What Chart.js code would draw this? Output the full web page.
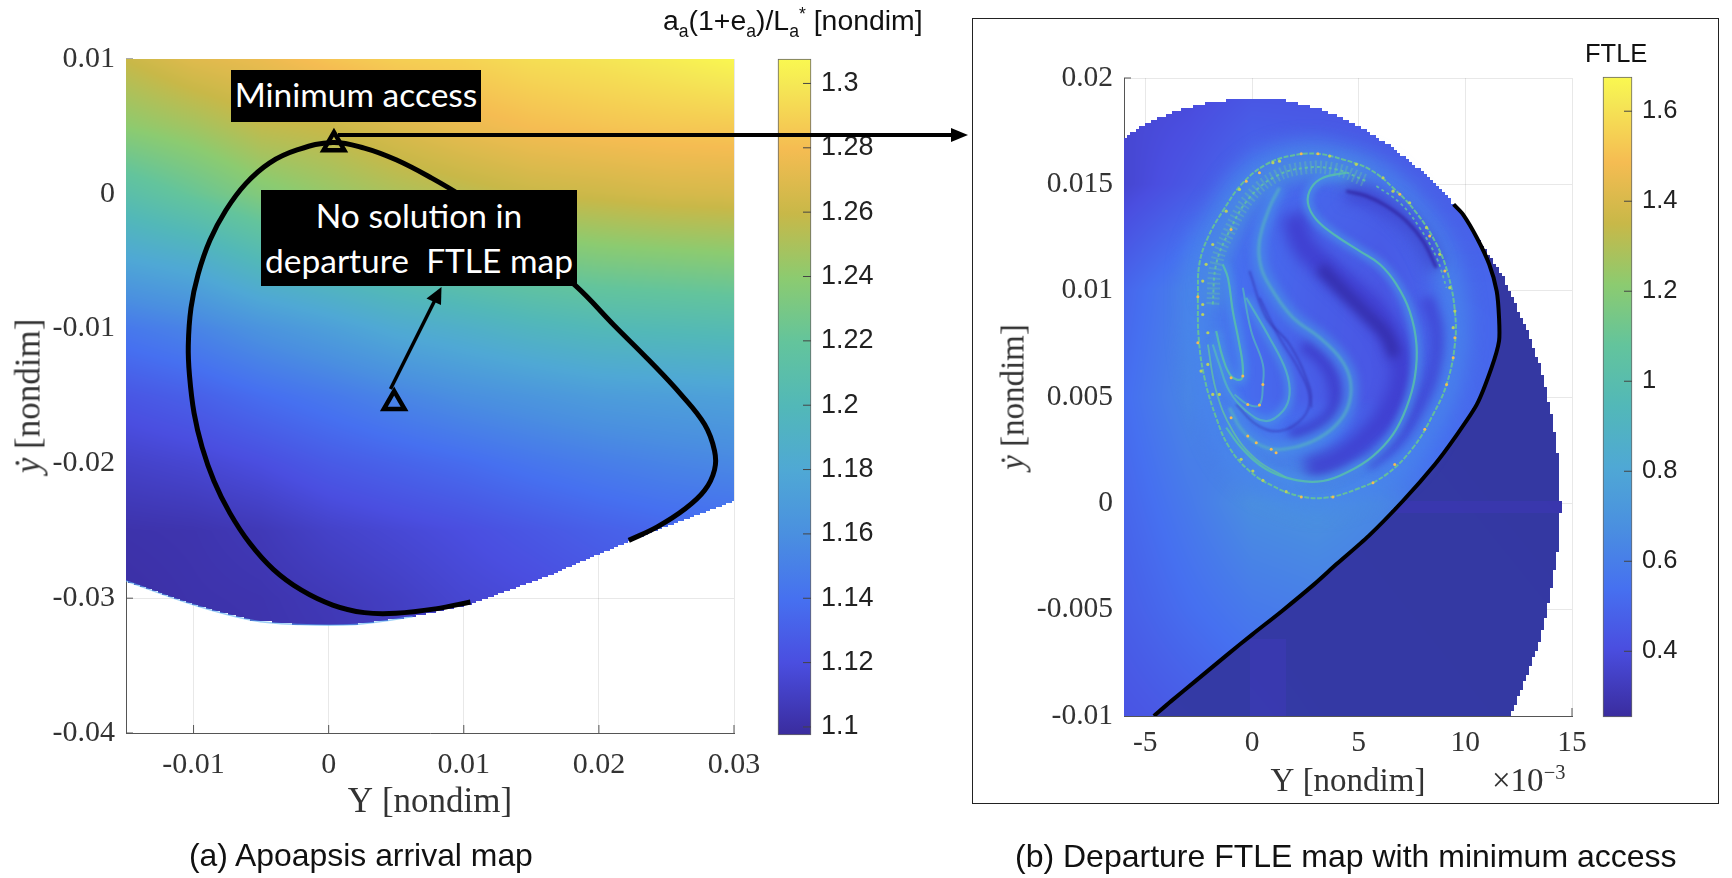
<!DOCTYPE html>
<html>
<head>
<meta charset="utf-8">
<title>Apoapsis arrival map and departure FTLE map</title>
<script src="https://cdn.jsdelivr.net/npm/chart.js@4/dist/chart.umd.min.js"></script>
<style>
html, body { margin: 0; padding: 0; background: #fff; }
#page { position: relative; width: 1732px; height: 878px; overflow: hidden; }
canvas { position: absolute; }
.t { position: absolute; white-space: nowrap; line-height: 1; }
.serif { font-family: "Liberation Serif", serif; color: #333; }
.sans { font-family: "Liberation Sans", sans-serif; color: #111; }
.box { position: absolute; background: #000; color: #fff; font-family: Lato, sans-serif; text-align: center; }
.box div { position: absolute; left: 0; right: 0; line-height: 1; white-space: pre; }
.rot { transform: translate(-50%, -50%) rotate(-90deg); }
sub, sup { font-size: 62%; line-height: 0; }
#frame { position: absolute; left: 972px; top: 18px; width: 745px; height: 784px; border: 1px solid #222; }
svg { position: absolute; left: 0; top: 0; }
</style>
</head>
<body>
<div id="page">
  <div id="frame"></div>
  <canvas id="arrivalMap" width="800" height="878" style="left:0;top:0"></canvas>
  <canvas id="arrivalBar" width="150" height="878" style="left:770px;top:0"></canvas>
  <canvas id="ftleMap" width="590" height="878" style="left:1020px;top:0"></canvas>
  <canvas id="ftleBar" width="90" height="878" style="left:1596px;top:0"></canvas>

  <div class="box" style="left:231px;top:70px;width:250px;height:52px"><div style="top:8px;font-size:33.5px">Minimum access</div></div>
  <div class="box" style="left:261px;top:190px;width:316px;height:96px"><div style="top:9px;font-size:33.5px">No solution in</div><div style="top:54px;font-size:33.5px">departure  FTLE map</div></div>

  <svg width="1732" height="878">
    <line x1="338" y1="135" x2="954" y2="135" stroke="#000" stroke-width="4"/>
    <polygon points="968,135 951,128 951,142" fill="#000"/>
    <line x1="390.5" y1="389" x2="436" y2="298" stroke="#000" stroke-width="3.5"/>
    <polygon points="441.5,287 426.5,298.5 441,305" fill="#000"/>
  </svg>

  <div class="t sans" style="left:663px;top:6px;font-size:28.4px">a<sub>a</sub>(1+e<sub>a</sub>)/L<sub>a</sub><sup>*</sup> [nondim]</div>
  <div class="t sans" style="left:1585px;top:41px;font-size:25.5px">FTLE</div>
  <div class="t serif rot" style="left:28px;top:396px;font-size:35px"><i>ẏ</i> [nondim]</div>
  <div class="t serif rot" style="left:1013px;top:397px;font-size:33px"><i>ẏ</i> [nondim]</div>
  <div class="t serif" style="left:1492px;top:764px;font-size:33px">×10<sup>−3</sup></div>
  <div class="t sans" style="left:189px;top:840px;font-size:31.9px">(a) Apoapsis arrival map</div>
  <div class="t sans" style="left:1015px;top:840px;font-size:32px">(b) Departure FTLE map with minimum access</div>
</div>

<script>
// ---- colour map, fraction of the colour bar -> colour ----
const mapStops = [[0,'#3a2c9e'],[.107,'#4a4ee0'],[.2,'#4670f0'],[.295,'#4a8fe0'],[.39,'#4fa8d5'],[.486,'#52b8b8'],
                  [.581,'#63c49c'],[.676,'#8ccb70'],[.771,'#c8b848'],[.867,'#f5bc52'],[.962,'#f5e855'],[1,'#faf850']];

// ---- (a) arrival map ----
const arrivalX = [-0.015,-0.01,-0.005,0,0.005,0.01,0.015,0.02,0.025,0.03];
const arrivalY = [0.01,0.005,0,-0.005,-0.01,-0.015,-0.02,-0.025,-0.03,-0.035];
const arrivalValues = [
  [1.26,1.27,1.275,1.283,1.288,1.29,1.295,1.298,1.302,1.307],
  [1.24,1.247,1.257,1.26,1.268,1.275,1.28,1.283,1.285,1.286],
  [1.21,1.222,1.235,1.243,1.25,1.255,1.26,1.262,1.265,1.266],
  [1.178,1.185,1.2,1.207,1.215,1.222,1.228,1.232,1.234,1.236],
  [1.145,1.152,1.163,1.172,1.182,1.188,1.195,1.2,1.202,1.204],
  [1.125,1.13,1.138,1.145,1.153,1.16,1.165,1.17,1.172,1.174],
  [1.112,1.115,1.12,1.127,1.132,1.137,1.143,1.148,1.152,1.155],
  [1.102,1.103,1.106,1.112,1.116,1.12,1.125,1.13,1.134,1.136],
  [1.1,1.102,1.103,1.106,1.11,1.115,1.118,1.122,1.125,1.128],
  [1.1,1.1,1.102,1.104,1.108,1.112,1.116,1.12,1.122,1.125]
];
const arrivalEdge = [[-0.015,-0.02873],[-0.00995,-0.03051],[-0.0057,-0.03163],[-0.0023,-0.03195],[0.00196,-0.03195],[0.00621,-0.03138],
                     [0.01046,-0.03047],[0.01641,-0.02829],[0.01981,-0.02681],[0.02492,-0.02471],[0.03,-0.0228]];
const minimumAccess = [[0.00039,0.00368],[0.00485,-0.01552]];
const accessCurveA = [[0.01049,-0.03028],[0.00791,-0.03079],[0.00499,-0.03112],[0.00264,-0.03107],[0.0003,-0.03051],[-0.00204,-0.02939],
  [-0.0041,-0.02786],[-0.00585,-0.02591],[-0.00732,-0.02367],[-0.00849,-0.0213],[-0.00937,-0.01879],[-0.00996,-0.01628],[-0.0103,-0.01349],
  [-0.01039,-0.01126],[-0.01019,-0.00847],[-0.00966,-0.00596],[-0.00879,-0.00345],[-0.00761,-0.00122],[-0.00615,0.00074],[-0.00439,0.00228],
  [-0.00234,0.00325],[0.0003,0.00381],[0.00264,0.00339],[0.00499,0.00252],[0.00763,0.00116],[0.00997,-0.00024],[0.012,-0.0017],[0.01407,-0.00331],
  [0.01831,-0.00685],[0.0211,-0.00973],[0.02373,-0.01237],[0.02607,-0.01488],[0.02783,-0.01712],[0.02856,-0.01907],[0.02856,-0.02047],
  [0.02783,-0.022],[0.02636,-0.02339],[0.02432,-0.02471],[0.02221,-0.02571]];
const arrivalXTicks = [-0.01,0,0.01,0.02,0.03];
const arrivalYTicks = [-0.04,-0.03,-0.02,-0.01,0,0.01];
const arrivalBarRange = [1.0975,1.3076];
const arrivalBarTicks = [1.1,1.12,1.14,1.16,1.18,1.2,1.22,1.24,1.26,1.28,1.3];

// ---- (b) FTLE map, x and y in units of 1e-3 ----
const ftleX = [-6,-3,0,3,6,9,12,15];
const ftleY = [20,15,10,5,0,-5,-10];
const ftleValues = [
  [.38,.38,.42,.42,.42,.42,.42,.42],
  [.37,.44,.52,.5,.48,.47,.47,.47],
  [.5,.61,.52,.47,.44,.5,.5,.5],
  [.53,.63,.52,.46,.44,.52,.5,.5],
  [.5,.58,.67,.69,.64,.55,.5,.5],
  [.47,.53,.58,.6,.6,.5,.5,.5],
  [.43,.46,.5,.5,.5,.5,.5,.5]
];
const noAccessX = [-6,3,15];
const noAccessY = [20,5,-10];
const noAccessValues = [[.3,.3,.3],[.3,.3,.29],[.32,.31,.3]];
const patchOne = [[7.07,0.11],[14.47,0.11],[14.47,-0.44],[6.5,-0.44]];
const patchTwo = [[-0.14,-6.32],[1.53,-6.32],[1.53,-10],[-0.14,-10]];
const ftleEdgeTop = [[-6,17.19],[-4.95,17.89],[-3.33,18.52],[-1.71,18.91],[0.02,19.04],[1.53,18.95],[3.14,18.57],[4.76,17.89],[6.38,16.88],[8.46,15.23],[9.45,14.06]];
const ftleEdgeRight = [[9.85,13.66],[10.77,12.18],[11.69,10.84],[12.85,8.26],[13.54,6.38],[14.12,3.87],[14.35,2.14],[14.47,-0.21],[14.35,-2.09],[14,-4.28],[13.54,-6.32],[12.85,-8.2],[12.11,-10]];
const accessCurveB = [[9.45,14.06],[9.89,13.59],[10.54,12.49],[11.12,11.24],[11.47,9.98],[11.58,8.73],[11.58,7.63],[11.23,6.38],[10.54,4.65],[9.5,3.08],
  [8.57,1.83],[7.07,0.11],[5.46,-1.54],[3.95,-2.87],[2.91,-3.81],[1.41,-5.06],[0.02,-6.16],[-1.14,-7.1],[-2.64,-8.35],[-3.79,-9.3],[-4.6,-10]];
const ridgeRing = [[-2.54,9.67],[-2.47,11.24],[-2.07,12.49],[-1.37,13.74],[-0.43,15.07],[0.67,15.94],[1.76,16.33],[3.01,16.44],[4.26,16.17],[5.52,15.7],
  [6.61,14.84],[7.71,13.66],[8.65,12.18],[9.19,10.77],[9.51,9.04],[9.51,7.47],[9.12,5.59],[8.49,4.18],[7.55,2.62],[6.3,1.36],[4.89,0.66],[3.48,0.27],
  [2.23,0.34],[0.98,0.81],[-0.12,1.52],[-1.06,2.62],[-1.68,4.03],[-2.23,5.91],[-2.5,7.79],[-2.54,9.67]];
const ridgeMainS = [[4.42,15.55],[3.33,15.31],[2.78,14.84],[2.62,14.13],[3.01,13.35],[3.95,12.57],[5.05,11.86],[5.99,11.24],[6.77,10.3],[7.39,9.04],[7.71,7.47],
  [7.63,5.91],[7.24,4.5],[6.61,3.24],[5.67,2.22],[4.58,1.52],[3.33,1.05],[1.92,1.13],[0.67,1.6],[-0.43,2.54],[-1.21,3.56]];
const ridgeSecondS = [[1.29,14.84],[0.82,13.9],[0.35,12.33],[0.43,11.08],[0.98,9.98],[1.92,8.73],[3.17,7.79],[4.11,6.85],[4.58,5.91],[4.58,4.81],[4.11,3.87],[3.17,3.09],[1.92,2.62],[0.67,2.62],[-0.43,3.4],[-1.06,4.5]];
const ridgeThirdS = [[-0.27,9.67],[0.82,7.79],[1.6,6.22],[1.76,5.12],[1.45,4.34],[0.67,3.87],[-0.27,4.34],[-1.06,5.28],[-1.53,6.53],[-1.84,7.47]];
const ridgeHook = [[-1.37,11.24],[-1.13,10.61],[-0.9,9.04],[-0.59,7.47],[-0.43,6.38],[-0.51,5.83],[-0.98,5.99],[-1.37,6.85],[-1.68,8.1]];
const ridgeFourthS = [[-0.43,10.14],[-0.04,8.1],[0.51,6.53],[0.51,5.59],[0.35,4.62],[-0.2,4.65],[-0.82,5.12]];
const ridgeInnerTop = [[-1.84,9.35],[-1.68,11.24],[-1.06,12.8],[-0.12,14.37],[1.13,15.39],[2.54,15.78],[3.95,15.7],[5.36,15.15]];
const ridgeInnerLow = [[-2.07,7.47],[-1.68,5.28],[-0.9,3.4],[0.2,2.07],[1.6,1.21]];
const ridgeInnerRight = [[5.83,14.92],[6.93,14.13],[7.86,12.96],[8.65,11.55],[9.12,10.14]];
const valleyTop = [[4.42,14.68],[5.36,14.45],[6.3,13.98],[7.24,13.27],[8.02,12.33],[8.65,11.08]];
const valleyMain = [[1.92,13.59],[2.39,12.18],[3.48,11.08],[4.89,9.82],[5.99,8.73],[6.77,7.32],[7,5.91],[6.46,4.34],[5.36,3.09],[3.95,2.07],[2.54,1.6]];
const valleyCore = [[3.2,11.1],[4.11,10.14],[5.36,8.88],[6.3,7.9],[6.7,6.9]];
const valleyLower = [[2.39,7.47],[3.33,6.69],[3.87,5.59],[3.8,4.34],[2.86,3.56],[1.76,3.24]];
const valleyThin = [[-0.12,10.92],[0.67,8.73],[1.76,7.47],[2.7,5.44],[2.78,4.5]];
const valleyRight = [[8.18,9.67],[8.65,8.1],[8.49,6.22],[7.86,4.65],[6.77,2.93],[5.36,1.83]];
const valleyFine = [[0.35,9.67],[1.29,7.79],[2.23,6.22],[2.7,4.97],[2.39,4.03],[1.29,3.4],[0.2,3.71],[-0.74,4.65]];
const speckleOrange = [[-0.98,12.88],[-2.54,9.71],[-2.54,7.55],[1.13,2.38],[-0.98,4.03],[9.04,10.92],[9.51,7.79],[9.43,6.85],[9.12,5.59],[8.1,3.48],[6.69,1.83],[5.67,0.97],[3.79,0.3],[2.31,0.3],
  [3.09,16.44],[2.31,16.44],[0.35,15.54],[-0.27,15.15],[6.93,14.53],[8.33,12.57],[-0.98,5.9],[-0.43,5.99],[0.51,5.59],[0.35,4.62],[-0.2,4.65],[-0.2,3.17],[0.2,2.85],[0.9,2.54]];
const speckleGreen = [[1.6,0.55],[0.51,1.08],[0.04,1.52],[-0.51,2.07],[-2.31,9.35],[-2.31,8.88],[-2.07,8.02],[-2.07,6.53],[-2.39,6.22],[-1.84,5.12],[-1.53,5.12],[1.29,16.09],[3.64,16.33],[4.89,15.94],[6.14,15.31],[6.61,14.68],
  [7.39,14.13],[8.18,12.96],[8.8,11.71],[9.27,10.14],[9.51,9.04],[9.43,8.26],[-2.15,11.24],[-1.84,12.17],[-2.31,10.45],[-1.21,13.74],[-0.59,14.76],[0.98,16.02]];
const ftleXTicks = [-5,0,5,10,15];
const ftleYTicks = [-10,-5,0,5,10,15,20];
const ftleBarRange = [0.254,1.676];
const ftleBarTicks = [0.4,0.6,0.8,1,1.2,1.4,1.6];

const pts = a => a.map(p => ({x:p[0], y:p[1]}));
const hex = c => [1,3,5].map(i => parseInt(c.substr(i,2),16));

// value (0..1 along the bar) -> rgb
function colourAt(f) {
    f = Math.min(1, Math.max(0, f));
    let i = 1;
    while (i < mapStops.length-1 && mapStops[i][0] < f) i++;
    const a = mapStops[i-1], b = mapStops[i], t = (f-a[0])/(b[0]-a[0]);
    const ca = hex(a[1]), cb = hex(b[1]);
    return ca.map((v,k) => v + (cb[k]-v)*t);
}

function lookup(nodes, v) {
    const n = nodes.length;
    const asc = nodes[1] > nodes[0];
    let i = 0;
    while (i < n-2 && (asc ? nodes[i+1] < v : nodes[i+1] > v)) i++;
    const t = (v-nodes[i])/(nodes[i+1]-nodes[i]);
    return [i, Math.min(1, Math.max(0, t))];
}

// heat layers: value grid sampled through the chart scales, clipped by a region polygon
const heatPlugin = {
    id: 'heat',
    beforeDatasetsDraw(chart, args, opts) {
        if (!opts.layers) return;
        const {ctx, chartArea:a, scales:{x:xs, y:ys}} = chart;
        // short inner ticks sit under the image, as in the figure
        ctx.save();
        ctx.strokeStyle = '#555'; ctx.lineWidth = 1;
        ctx.beginPath();
        xs.ticks.forEach(t => { const p = xs.getPixelForValue(t.value); ctx.moveTo(p,a.bottom); ctx.lineTo(p,a.bottom-8); });
        ys.ticks.forEach(t => { const p = ys.getPixelForValue(t.value); ctx.moveTo(a.left,p); ctx.lineTo(a.left+7,p); });
        ctx.stroke();
        ctx.restore();

        if (!chart.$heat) {
            const w = Math.round(a.right-a.left), h = Math.round(a.bottom-a.top);
            const off = document.createElement('canvas');
            off.width = w; off.height = h;
            const oc = off.getContext('2d', {willReadFrequently:true});
            opts.layers.forEach(l => {
                const path = new Path2D();
                l.region.forEach((p,i) => {
                    const px = xs.getPixelForValue(p[0])-a.left, py = ys.getPixelForValue(p[1])-a.top;
                    i ? path.lineTo(px,py) : path.moveTo(px,py);
                });
                path.closePath();
                const img = oc.getImageData(0,0,w,h);
                const cell = opts.cell;
                for (let py=0; py<h; py++) {
                    const cy = (Math.floor(py/cell)+.5)*cell;
                    const [j,tj] = lookup(l.ys, ys.getValueForPixel(a.top+py+.5));
                    for (let px=0; px<w; px++) {
                        const cx = (Math.floor(px/cell)+.5)*cell;
                        if (!oc.isPointInPath(path,cx,cy)) continue;
                        const [i,ti] = lookup(l.xs, xs.getValueForPixel(a.left+px+.5));
                        const g = l.grid;
                        const v = (g[j][i]*(1-ti)+g[j][i+1]*ti)*(1-tj) + (g[j+1][i]*(1-ti)+g[j+1][i+1]*ti)*tj;
                        let c = colourAt((v-opts.range[0])/(opts.range[1]-opts.range[0]));
                        if (l.tint) c = c.map((u,k) => u*(1-l.mix)+l.tint[k]*l.mix);
                        const k = (py*w+px)*4;
                        img.data[k]=c[0]; img.data[k+1]=c[1]; img.data[k+2]=c[2]; img.data[k+3]=255;
                    }
                }
                oc.putImageData(img,0,0);
            });
            chart.$heat = off;
        }
        ctx.drawImage(chart.$heat, a.left, a.top);
    },
    // datasets may ask for a soft stroke
    beforeDatasetDraw(chart, args) {
        const b = chart.data.datasets[args.index].blur;
        if (b) chart.ctx.filter = 'blur('+b+'px)';
    },
    afterDatasetDraw(chart, args) {
        if (chart.data.datasets[args.index].blur) chart.ctx.filter = 'none';
    }
};

// little ticks on the inside of a colour bar
const barTicks = {
    id: 'barTicks',
    afterDatasetsDraw(chart) {
        const {ctx, chartArea:a, scales:{y}} = chart;
        ctx.save();
        ctx.strokeStyle = '#444'; ctx.lineWidth = 1;
        ctx.beginPath();
        y.ticks.forEach(t => { const p = y.getPixelForValue(t.value); ctx.moveTo(a.right,p); ctx.lineTo(a.right-8,p); });
        ctx.stroke();
        ctx.restore();
    }
};

Chart.defaults.animation = false;
Chart.defaults.responsive = false;
Chart.defaults.plugins.legend.display = false;
Chart.defaults.plugins.tooltip.enabled = false;

const gridLine = 'rgba(0,0,0,0.09)';

function mapAxes(cfg) {
    return {
        x: { type:'linear', min:cfg.xr[0], max:cfg.xr[1],
             afterBuildTicks: s => { s.ticks = cfg.xt.map(v => ({value:v})); },
             afterFit: s => { s.height = cfg.axisH; },
             grid: { color:gridLine, drawTicks:false }, border: { color:'#555' },
             ticks: { font:cfg.tickFont, color:'#333', padding:cfg.padX, maxRotation:0, autoSkip:false, callback:v => String(v) },
             title: { display:true, text:'Y [nondim]', font:{family:'Liberation Serif', size:cfg.titleSize}, color:'#333', padding:{top:0,bottom:cfg.titlePad} } },
        y: { type:'linear', min:cfg.yr[0], max:cfg.yr[1],
             afterBuildTicks: s => { s.ticks = cfg.yt.map(v => ({value:v})); },
             afterFit: s => { s.width = cfg.axisW; },
             grid: { color:gridLine, drawTicks:false }, border: { color:'#555' },
             ticks: { font:cfg.tickFont, color:'#333', padding:11, autoSkip:false, callback:cfg.yLabel } }
    };
}

function curve(data, colour, width, extra) {
    return Object.assign({ data:pts(data), showLine:true, borderColor:colour, borderWidth:width, pointRadius:0, tension:.4, fill:false }, extra||{});
}

new Chart(document.getElementById('arrivalMap'), {
    type:'scatter',
    plugins:[heatPlugin],
    data:{ datasets:[
        { data:pts(minimumAccess), pointStyle:'triangle', pointRadius:12, pointBorderWidth:4.5, pointBorderColor:'#000', pointBackgroundColor:'rgba(0,0,0,0)' },
        curve(accessCurveA,'#000',5),
        curve(arrivalEdge.slice(0,6),'rgba(90,175,240,.6)',1.5,{ blur:.5 })
    ]},
    options:{
        layout:{ padding:{ left:0, top:59, right:66, bottom:0 } },
        scales: mapAxes({ xr:[-0.015,0.03], yr:[-0.04,0.01], xt:arrivalXTicks, yt:arrivalYTicks, axisH:145, axisW:126, padX:14,
            tickFont:{ family:'Liberation Serif', size:30 }, titleSize:35, titlePad:54, yLabel:v => String(v) }),
        plugins:{ heat:{ range:arrivalBarRange, cell:2, layers:[
            { xs:arrivalX, ys:arrivalY, grid:arrivalValues, region:[[-0.015,0.01],[0.03,0.01]].concat(arrivalEdge.slice().reverse()) }
        ]}}
    }
});

const ridge = 'rgba(88,192,170,.85)';
const glow = 'rgba(72,140,232,.75)';
new Chart(document.getElementById('ftleMap'), {
    type:'scatter',
    plugins:[heatPlugin],
    data:{ datasets:[
        curve(accessCurveB,'#000',4,{ tension:.25 }),
        { data:pts(speckleOrange), pointRadius:1.5, pointBackgroundColor:'#f5bc52', pointBorderWidth:0 },
        { data:pts(speckleGreen), pointRadius:1.6, pointBackgroundColor:'#b8d060', pointBorderWidth:0 },
        curve(ridgeRing,'rgba(105,200,145,.85)',2,{ blur:.6, borderDash:[5,1.5] }),
        curve(ridgeMainS,ridge,2.2,{ blur:.6 }),
        curve(ridgeSecondS,'rgba(85,175,195,.75)',3,{ blur:1 }),
        curve(ridgeThirdS,'rgba(85,180,190,.8)',2.2,{ blur:.7 }),
        curve(ridgeHook,ridge,2.2,{ blur:.6 }),
        curve(ridgeFourthS,'rgba(85,180,190,.75)',2,{ blur:.6 }),
        curve(ridgeInnerTop,'rgba(100,195,160,.8)',2,{ blur:.5, borderDash:[3,3] }),
        curve(ridgeInnerTop,'rgba(110,205,150,.3)',13,{ blur:.6, borderDash:[2,3] }),
        curve(ridgeInnerLow,'rgba(100,195,160,.75)',1.8,{ blur:.5 }),
        curve(ridgeInnerRight,'rgba(100,195,160,.8)',1.8,{ blur:.5, borderDash:[3,3] }),
        curve(valleyThin,'rgba(50,45,170,.7)',1.5,{ blur:.8 }),
        curve(valleyFine,'rgba(52,48,175,.7)',1.5,{ blur:.8 }),
        curve(ridgeMainS,glow,10,{ blur:3 }),
        curve(ridgeSecondS,glow,14,{ blur:4 }),
        curve(ridgeThirdS,glow,10,{ blur:3 }),
        curve(ridgeHook,glow,10,{ blur:3 }),
        curve(valleyTop,'rgba(50,40,165,.95)',3,{ blur:1.6 }),
        curve(valleyCore,'rgba(50,42,165,.8)',12,{ blur:5 }),
        curve(valleyLower,'rgba(60,58,200,.75)',14,{ blur:5 }),
        curve(valleyMain,'rgba(62,58,205,.85)',24,{ blur:7 }),
        curve(valleyTop,'rgba(62,62,205,.7)',20,{ blur:7 }),
        curve(valleyRight,'rgba(62,62,210,.7)',14,{ blur:5 }),
        curve(ridgeInnerTop,'rgba(74,140,225,.8)',24,{ blur:7 }),
        curve(ridgeRing,'rgba(72,135,235,.75)',28,{ blur:9 })
    ]},
    options:{
        layout:{ padding:{ left:0, top:78, right:38, bottom:0 } },
        scales: mapAxes({ xr:[-6,15], yr:[-10,20], xt:ftleXTicks, yt:ftleYTicks, axisH:162, axisW:104, padX:10,
            tickFont:{ family:'Liberation Serif', size:29.5 }, titleSize:33, titlePad:76, yLabel:v => String(v/1000) }),
        plugins:{ heat:{ range:ftleBarRange, cell:3, layers:[
            { xs:ftleX, ys:ftleY, grid:ftleValues, region:[[-6,-10],[-6,17.19]].concat(ftleEdgeTop,ftleEdgeRight) },
            { xs:noAccessX, ys:noAccessY, grid:noAccessValues, region:accessCurveB.concat(ftleEdgeRight.slice().reverse()), tint:[46,58,155], mix:.65 },
            { xs:noAccessX, ys:noAccessY, grid:noAccessValues, region:patchOne, tint:[52,56,170], mix:.5 },
            { xs:noAccessX, ys:noAccessY, grid:noAccessValues, region:patchTwo, tint:[50,58,168], mix:.5 }
        ]}}
    }
});

function colourBar(id, range, ticks, cfg) {
    new Chart(document.getElementById(id), {
        type:'bar',
        plugins:[barTicks],
        data:{ labels:[''], datasets:[{
            data:[range],
            barPercentage:1, categoryPercentage:1, borderColor:'#666', borderWidth:1, borderSkipped:false, clip:false,
            backgroundColor: c => {
                const a = c.chart.chartArea;
                if (!a) return '#888';
                const g = c.chart.ctx.createLinearGradient(0,a.bottom,0,a.top);
                mapStops.forEach(s => g.addColorStop(s[0], s[1]));
                return g;
            }
        }]},
        options:{
            layout:{ padding:{ left:cfg.left, top:cfg.top, right:0, bottom:878-cfg.bottom } },
            scales:{
                x:{ display:false },
                y:{ position:'right', min:range[0], max:range[1],
                    afterBuildTicks: s => { s.ticks = ticks.map(v => ({value:v})); },
                    afterFit: s => { s.width = cfg.axisW; },
                    grid:{ display:false, drawTicks:false }, border:{ display:false },
                    ticks:{ font:{ family:'Liberation Sans', size:cfg.size }, color:'#222', padding:cfg.pad, autoSkip:false, callback:v => String(v) } }
            }
        }
    });
}
colourBar('arrivalBar', arrivalBarRange, arrivalBarTicks, { left:8, top:59, bottom:735, axisW:109, size:27, pad:10 });
colourBar('ftleBar', ftleBarRange, ftleBarTicks, { left:7, top:77, bottom:717, axisW:54, size:25.5, pad:10 });
</script>
</body>
</html>
